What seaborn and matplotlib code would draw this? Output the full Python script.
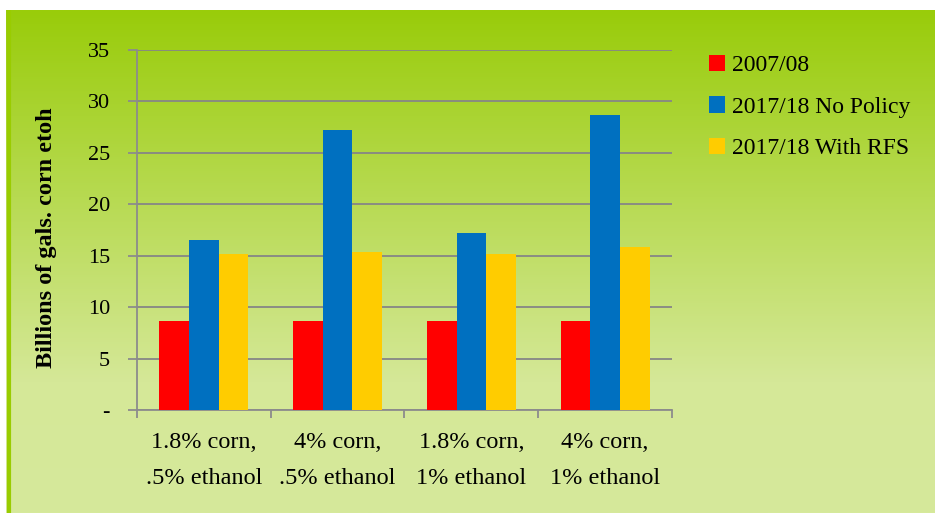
import numpy as np
import pandas as pd
import matplotlib
matplotlib.use("Agg")
import matplotlib.pyplot as plt
from matplotlib.patches import Patch
from matplotlib.colors import LinearSegmentedColormap
import seaborn as sns

categories = ["1.8% corn,\n.5% ethanol", "4% corn,\n.5% ethanol",
              "1.8% corn,\n1% ethanol", "4% corn,\n1% ethanol"]
series_names = ["2007/08", "2017/18 No Policy", "2017/18 With RFS"]
vals_2007 = [8.7, 8.7, 8.7, 8.7]
vals_nopolicy = [16.5, 27.2, 17.2, 28.7]
vals_rfs = [15.2, 15.4, 15.2, 15.8]
y_ticks = [0, 5, 10, 15, 20, 25, 30, 35]
y_ticklabels = ["-", "5", "10", "15", "20", "25", "30", "35"]
y_label = "Billions of gals. corn etoh"
colors = ["#FF0000", "#0070C0", "#FFCC00"]

df = pd.DataFrame({
    "cat": categories * 3,
    "series": [series_names[0]] * 4 + [series_names[1]] * 4 + [series_names[2]] * 4,
    "value": vals_2007 + vals_nopolicy + vals_rfs,
})

sns.set_theme(style="white")
plt.rcParams["font.family"] = ["Liberation Serif", "DejaVu Serif"]
plt.rcParams["text.color"] = "black"
plt.rcParams["axes.labelcolor"] = "black"
plt.rcParams["xtick.color"] = "black"
plt.rcParams["ytick.color"] = "black"

W, H = 935, 513
fig = plt.figure(figsize=(W / 100, H / 100), dpi=100)
fig.patch.set_facecolor("white")

# background panel with vertical gradient
bg = fig.add_axes([6 / W, 0, 1 - 6 / W, (H - 10) / H])
bg.set_axis_off()
cmap = LinearSegmentedColormap.from_list(
    "g", [(0.0, "#99CC0A"), (0.74, "#D5E898"), (1.0, "#D6E99B")])
grad = np.linspace(0, 1, 512).reshape(-1, 1)
bg.imshow(grad, aspect="auto", cmap=cmap, extent=[0, 1, 1, 0])
bg.set_xlim(0, 1); bg.set_ylim(1, 0)
bg.axvline(0.003, color="#99CC00", lw=3)

ax = fig.add_axes([137 / W, 1 - 410 / H, (672 - 137) / W, 360 / H])
ax.set_facecolor("none")
sns.barplot(data=df, x="cat", y="value", hue="series", palette=colors,
            width=0.665, saturation=1, ax=ax, legend=False, zorder=3,
            edgecolor="none", linewidth=0)

ax.set_ylim(0, 35)
ax.set_xlim(-0.5, 3.5)
ax.set_yticks(y_ticks)
ax.set_yticklabels(y_ticklabels)
ax.yaxis.grid(True, color="#868686", lw=1.3, zorder=0)
ax.set_axisbelow(True)
for s in ["top", "right"]:
    ax.spines[s].set_visible(False)
for s in ["left", "bottom"]:
    ax.spines[s].set_color("#8C8C8C")
    ax.spines[s].set_linewidth(1.3)
ax.tick_params(axis="y", which="major", direction="out", length=6.5, width=1.3,
               color="#8C8C8C", labelcolor="black", labelsize=16, pad=13, left=True)
ax.set_xticks(range(4))
ax.set_xticklabels(categories, linespacing=1.95)
ax.set_xticks([-0.5, 0.5, 1.5, 2.5, 3.5], minor=True)
ax.tick_params(axis="x", which="major", length=0, labelsize=17.5, pad=16,
               labelcolor="black")
ax.tick_params(axis="x", which="minor", direction="out", length=5.5, width=1.3,
               color="#8C8C8C", bottom=True)
ax.set_xlabel("")
ax.set_ylabel(y_label, fontsize=17.5, fontweight="bold", color="black")
ax.yaxis.set_label_coords(-(137 - 57) / (672 - 137), 0.48)

handles = [Patch(facecolor=c, edgecolor="none") for c in colors]
fig.legend(handles, series_names, loc="upper left",
           bbox_to_anchor=(709 / W, 1 - 55 / H), frameon=False,
           fontsize=17, handlelength=0.68, handleheight=0.68,
           handletextpad=0.3, labelspacing=0.85, borderpad=0, borderaxespad=0)

fig.savefig("out.png", dpi=100, facecolor=fig.get_facecolor())
